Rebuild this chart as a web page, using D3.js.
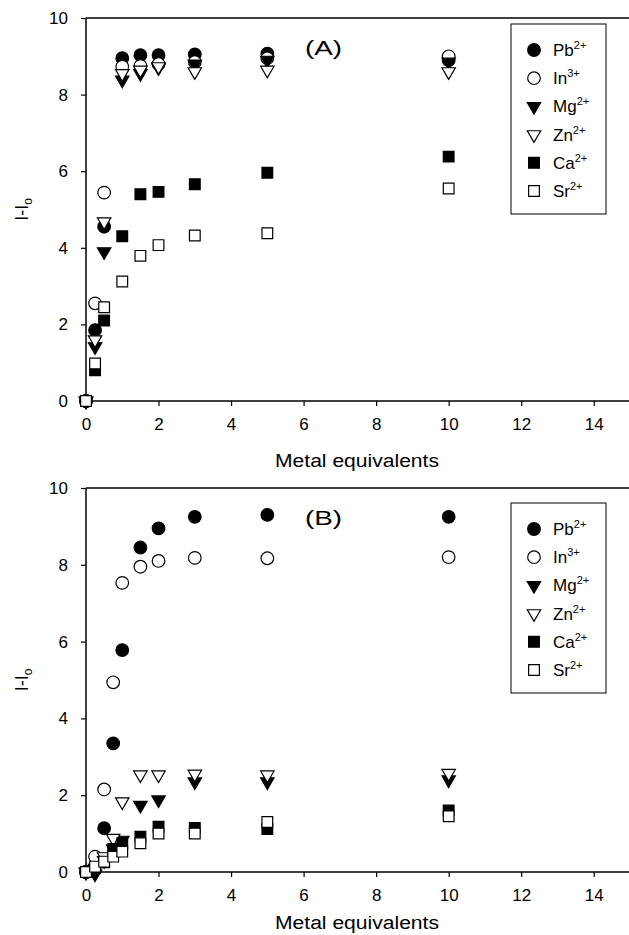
<!DOCTYPE html>
<html>
<head>
<meta charset="utf-8">
<script src="https://cdn.jsdelivr.net/npm/d3@7"></script>
<style>
  body { margin: 0; background: #fff; }
  svg { display: block; font-family: "Liberation Sans", Arial, sans-serif; }
</style>
</head>
<body>
<svg id="chart" width="629" height="935"></svg>
<script>
// metal ions, in draw order (later ones sit on top)
const ions = ["Pb", "In", "Mg", "Zn", "Ca", "Sr"];
const charges = ["2+", "3+", "2+", "2+", "2+", "2+"];
const shapes = ["circle", "circle", "triangle", "triangle", "square", "square"];
const filled = [true, false, true, false, true, false];

const xTicks = [0, 2, 4, 6, 8, 10, 12, 14];
const yTicks = [0, 2, 4, 6, 8, 10];

// panel (A)
const xA = [0, 0.25, 0.5, 1, 1.5, 2, 3, 5, 10];
const pbA = [0, 1.85, 4.55, 8.95, 9.03, 9.03, 9.05, 9.07, 8.9];
const inA = [0, 2.55, 5.44, 8.73, 8.75, 8.8, 8.85, 8.95, 9.0];
const mgA = [0, 1.42, 3.9, 8.38, 8.55, 8.7, 8.8, 8.9, 8.85];
const znA = [0, 1.6, 4.68, 8.55, 8.64, 8.73, 8.6, 8.64, 8.6];
const caA = [0, 0.8, 2.1, 4.3, 5.4, 5.46, 5.66, 5.96, 6.38];
const srA = [0, 0.98, 2.45, 3.12, 3.79, 4.07, 4.32, 4.38, 5.55];

// panel (B)
const xB = [0, 0.25, 0.5, 0.75, 1, 1.5, 2, 3, 5, 10];
const pbB = [0, 0.15, 1.14, 3.35, 5.78, 8.45, 8.95, 9.25, 9.3, 9.25];
const inB = [0, 0.4, 2.15, 4.94, 7.53, 7.95, 8.1, 8.18, 8.17, 8.2];
const mgB = [0, -0.05, 0.3, 0.6, 0.83, 1.74, 1.88, 2.35, 2.35, 2.4];
const znB = [0, 0.1, 0.4, 0.88, 1.83, 2.53, 2.53, 2.55, 2.53, 2.57];
const caB = [0, 0.1, 0.25, 0.6, 0.75, 0.92, 1.18, 1.15, 1.12, 1.6];
const srB = [0, 0.14, 0.27, 0.4, 0.53, 0.75, 1.0, 1.0, 1.3, 1.45];

const svg = d3.select("#chart");

const symbolFor = {
  circle: d3.symbol().type(d3.symbolCircle).size(125),
  square: d3.symbol().type(d3.symbolSquare).size(115),
  triangle: d3.symbol().type(d3.symbolTriangle).size(78)
};

function drawMarker(g, i, cx, cy) {
  const flip = shapes[i] === "triangle" ? " rotate(180)" : "";
  g.append("path")
    .attr("d", symbolFor[shapes[i]]())
    .attr("transform", "translate(" + cx + "," + cy + ")" + flip)
    .attr("fill", filled[i] ? "#000" : "#fff")
    .attr("stroke", "#000")
    .attr("stroke-width", 1.2);
}

function drawPanel(top, bottom, xs, series, label, legendTop) {
  const x = d3.scaleLinear().domain([0, 15]).range([86, 630]);
  const y = d3.scaleLinear().domain([0, 10]).range([bottom, top]);
  const g = svg.append("g");

  // frame: top line
  g.append("line")
    .attr("x1", x(0)).attr("x2", 629)
    .attr("y1", y(10)).attr("y2", y(10))
    .attr("stroke", "#000").attr("stroke-width", 1.5);

  const xAxis = g.append("g")
    .attr("transform", "translate(0," + y(0) + ")")
    .call(d3.axisBottom(x).tickValues(xTicks).tickSize(5).tickPadding(12).tickFormat(d3.format("d")));
  const yAxis = g.append("g")
    .attr("transform", "translate(" + x(0) + ",0)")
    .call(d3.axisLeft(y).tickValues(yTicks).tickSize(5).tickPadding(13).tickFormat(d3.format("d")));

  [xAxis, yAxis].forEach(a => {
    a.select(".domain").attr("stroke", "#000").attr("stroke-width", 1.5);
    a.selectAll(".tick line").attr("stroke", "#000").attr("stroke-width", 1.2);
    a.selectAll("text").attr("font-size", 17).attr("fill", "#000")
      .attr("font-family", "'Liberation Sans', Arial, sans-serif");
  });
  // stretch x domain line to the page edge
  xAxis.select(".domain").attr("d", "M" + x(0) + ",0H629");
  yAxis.select(".domain").attr("d", "M0," + y(0) + "V" + y(10));

  // axis titles (kept inside the page at the bottom)
  g.append("text")
    .attr("x", 357).attr("y", Math.min(bottom + 66, 929))
    .attr("text-anchor", "middle")
    .attr("font-size", 18)
    .attr("textLength", 164)
    .attr("lengthAdjust", "spacingAndGlyphs")
    .text("Metal equivalents");

  const yl = g.append("text")
    .attr("transform", "translate(28," + ((top + bottom) / 2) + ") rotate(-90)")
    .attr("text-anchor", "middle")
    .attr("font-size", 18);
  yl.append("tspan").text("I-I");
  yl.append("tspan").attr("font-size", 12).attr("dy", 4).text("o");

  // panel label
  g.append("text")
    .attr("x", 305).attr("y", top + 37)
    .attr("font-size", 21)
    .attr("textLength", 37)
    .attr("lengthAdjust", "spacingAndGlyphs")
    .text(label);

  // data markers
  series.forEach((vals, i) => {
    vals.forEach((v, j) => drawMarker(g, i, x(xs[j]), y(v)));
  });

  // legend
  const lg = g.append("g");
  lg.append("rect")
    .attr("x", 511).attr("y", legendTop)
    .attr("width", 95).attr("height", 190)
    .attr("fill", "#fff")
    .attr("stroke", "#000").attr("stroke-width", 1);
  ions.forEach((ion, i) => {
    const cy = legendTop + 26 + i * 28.2;
    drawMarker(lg, i, 534, cy);
    const t = lg.append("text")
      .attr("x", 553).attr("y", cy + 6)
      .attr("font-size", 17);
    t.append("tspan").text(ion);
    t.append("tspan").attr("font-size", 11).attr("dy", -7).text(charges[i]);
  });
}

drawPanel(18, 401, xA, [pbA, inA, mgA, znA, caA, srA], "(A)", 24);
drawPanel(488, 872, xB, [pbB, inB, mgB, znB, caB, srB], "(B)", 503);
</script>
</body>
</html>
